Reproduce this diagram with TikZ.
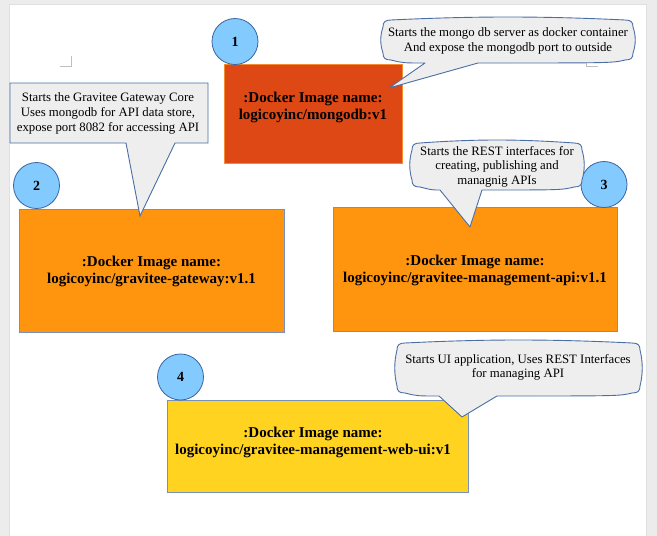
\documentclass[tikz,border=0pt]{standalone}
\usepackage{fontspec}
\setmainfont{Liberation Serif}
\definecolor{mongored}{RGB}{221,72,20}
\definecolor{mongoline}{RGB}{245,140,50}
\definecolor{apiorange}{RGB}{255,149,14}
\definecolor{webyellow}{RGB}{255,211,32}
\definecolor{boxline}{RGB}{120,145,185}
\definecolor{numblue}{RGB}{131,202,255}
\definecolor{numline}{RGB}{60,100,160}
\definecolor{notefill}{RGB}{238,238,238}
\definecolor{noteline}{RGB}{75,110,165}
\definecolor{pagegrey}{RGB}{236,236,236}

% rounded note with a pointer: left top right bottom, pointer base left/right, tip x y
\newcommand{\notebubble}[8]{%
  \filldraw[notebox] ({#1+8},{#2+3})
    .. controls ({#1+8+(#3-#1)/3},{#2-1}) and ({#3-8-(#3-#1)/3},{#2-1}) .. ({#3-8},{#2+3})
    .. controls ({#3-2},{#2+3}) and (#3,{#2+5}) .. (#3,{#2+10})
    .. controls ({#3+3},{#2+10+(#4-#2-20)/3}) and ({#3+3},{#4-10-(#4-#2-20)/3}) .. (#3,{#4-10})
    .. controls (#3,{#4-5}) and ({#3-2},{#4-3}) .. ({#3-8},{#4-3})
    .. controls ({#3-20},#4) .. (#6,#4) -- (#7,#8) -- (#5,#4)
    .. controls ({#1+20},#4) .. ({#1+8},{#4-3})
    .. controls ({#1+2},{#4-3}) and (#1,{#4-5}) .. (#1,{#4-10})
    .. controls ({#1-3},{#4-10-(#4-#2-20)/3}) and ({#1-3},{#2+10+(#4-#2-20)/3}) .. (#1,{#2+10})
    .. controls (#1,{#2+5}) and ({#1+2},{#2+3}) .. cycle;}

\begin{document}
\begin{tikzpicture}[x=1pt,y=-1pt,
    image/.style={draw=boxline,line width=1pt,inner sep=0pt},
    imgtext/.style={font=\fontsize{15}{17}\selectfont\bfseries,align=center},
    number/.style={circle,draw=numline,fill=numblue,line width=0.8pt,minimum size=46pt,
                   inner sep=0pt,font=\fontsize{14}{16}\selectfont\bfseries},
    notebox/.style={draw=noteline,fill=notefill,line width=0.9pt,line join=round},
    notetext/.style={font=\fontsize{12.8}{14.6}\selectfont,align=center},
    pagemark/.style={draw=black!25,line width=1pt}]

  \useasboundingbox (0,0) rectangle (657,536);

  % page
  \fill[pagegrey] (0,0) rectangle (657,536);
  \fill[white] (9,4) rectangle (646,536);
  \draw[black!12] (9,536) -- (9,4) -- (646,4) -- (646,536);
  \draw[pagemark] (60,66) -- (71,66) -- (71,56);
  \draw[pagemark] (586,56) -- (586,66) -- (598,66);

  % docker images
  \node[image,draw=mongoline,fill=mongored,minimum width=178pt,minimum height=99pt] (mongo) at (313.5,113.5) {};
  \node[image,fill=apiorange,minimum width=265pt,minimum height=123pt] (gateway) at (151.5,270.5) {};
  \node[image,fill=apiorange,minimum width=284pt,minimum height=124pt] (mgmtapi) at (475,269) {};
  \node[image,fill=webyellow,minimum width=301pt,minimum height=92pt] (webui) at (317.5,446) {};

  \node[imgtext] (mongolbl) at (313,107.5) {:Docker Image name:\\logicoyinc/mongodb:v1};
  \node[imgtext] (gatewaylbl) at (151.5,271.5) {:Docker Image name:\\logicoyinc/gravitee-gateway:v1.1};
  \node[imgtext] (mgmtapilbl) at (475,270.5) {:Docker Image name:\\logicoyinc/gravitee-management-api:v1.1};
  \node[imgtext] (webuilbl) at (313,442.5) {:Docker Image name:\\logicoyinc/gravitee-management-web-ui:v1};

  % numbers
  \node[number] (n1) at (235,41.5) {1};
  \node[number] (n2) at (36.5,185.5) {2};
  \node[number] (n3) at (604,184.5) {3};
  \node[number] (n4) at (180.5,377) {4};

  % notes
  \notebubble{383}{17}{633}{63}{425}{478}{389}{88}
  \node[notetext] (mongonote) at (508,41) {Starts the mongo db server as docker container\\And expose the mongodb port to outside};

  \filldraw[notebox,line join=miter] (10,83) -- (208,83) -- (208,143) -- (175,143) -- (140,216) -- (126,143) -- (10,143) -- cycle;
  \node[notetext] (gatewaynote) at (108,113.5) {Starts the Gravitee Gateway Core\\Uses mongodb for API data store,\\expose port 8082 for accessing API};

  \notebubble{412}{140}{582}{190}{440}{482}{470}{227}
  \node[notetext] (mgmtapinote) at (497,166.5) {Starts the REST interfaces for\\creating, publishing and\\managnig APIs};

  \notebubble{397}{340}{640}{396}{439}{497}{462}{417}
  \node[notetext] (webuinote) at (518,367.5) {Starts UI application, Uses REST Interfaces\\for managing API};

\end{tikzpicture}
\end{document}
